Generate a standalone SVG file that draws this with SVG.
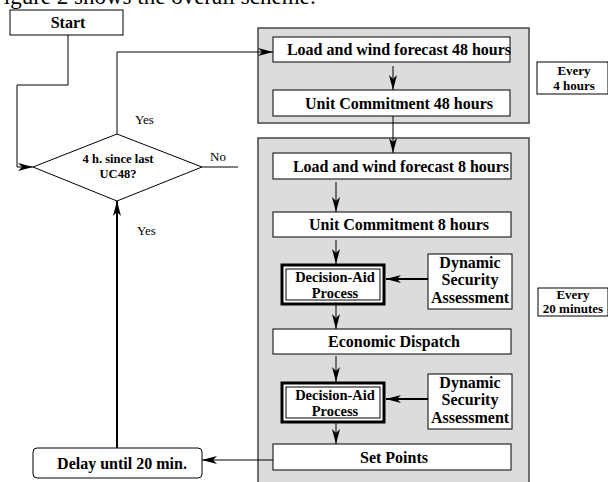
<svg xmlns="http://www.w3.org/2000/svg" width="608" height="482" viewBox="0 0 608 482">
<style>
text{font-family:"Liberation Serif","Times New Roman",serif;fill:#000}
.b{font-weight:bold;font-size:16px;text-anchor:middle}
.r{font-size:13px}
.e{font-size:13px}
.d{font-size:16px}
.p{font-size:14.5px}
.box{fill:#fff;stroke:#000;stroke-width:1}
.grp{fill:#dcdcdc;stroke:#444;stroke-width:1.5}
.ln{fill:none;stroke:#000;stroke-width:1}
.th{fill:none;stroke:#000;stroke-width:2}
</style>
<defs>
<marker id="ah" markerWidth="16" markerHeight="10" refX="15" refY="5" orient="auto" markerUnits="userSpaceOnUse">
<path d="M0,1 L15,5 L0,9 L4,5 z" fill="#000"/>
</marker>
</defs>
<text x="-9" y="4" style="font-size:23px">Figure 2 shows the overall scheme:</text>
<rect class="grp" x="258" y="28" width="271" height="95"/>
<rect class="grp" x="258" y="138" width="271" height="350"/>
<g id="start"><rect class="box" x="10" y="10" width="113" height="25"/><text class="b" x="68" y="28">Start</text></g>
<g id="decision"><path d="M33,167 L117,134 L202,167 L117,201 z" fill="#fff" stroke="#000"/><text class="b" x="118" y="163" style="font-size:12.5px">4 h. since last</text><text class="b" x="118" y="178" style="font-size:12.5px">UC48?</text></g>
<g id="load48"><rect class="box" x="273" y="37" width="237" height="25"/><text class="b" x="399" y="55">Load and wind forecast 48 hours</text></g>
<g id="uc48"><rect class="box" x="273" y="90" width="237" height="26"/><text class="b" x="399" y="109">Unit Commitment 48 hours</text></g>
<g id="every4"><rect class="box" x="537" y="62" width="71" height="32"/><text class="b e" x="574" y="75">Every</text><text class="b e" x="574" y="90">4 hours</text></g>
<g id="load8"><rect class="box" x="273" y="153" width="238" height="26"/><text class="b" x="401" y="172">Load and wind forecast 8 hours</text></g>
<g id="uc8"><rect class="box" x="273" y="212" width="238" height="25"/><text class="b" x="399" y="230">Unit Commitment 8 hours</text></g>
<g id="dap1"><rect x="282" y="265" width="102" height="39" fill="#fff" stroke="#000" stroke-width="3"/><rect x="286" y="269" width="94" height="31" fill="none" stroke="#000" stroke-width="1"/><text class="b p" x="335" y="282">Decision-Aid</text><text class="b p" x="335" y="298">Process</text></g>
<g id="dsa1"><rect class="box" x="428" y="254" width="84" height="55"/><text class="b d" x="470" y="268">Dynamic</text><text class="b d" x="470" y="285">Security</text><text class="b d" x="470" y="303">Assessment</text></g>
<g id="every20"><rect class="box" x="538" y="288" width="70" height="28"/><text class="b e" x="573" y="299">Every</text><text class="b e" x="573" y="313">20 minutes</text></g>
<g id="ed"><rect class="box" x="273" y="329" width="238" height="25"/><text class="b" x="394" y="347">Economic Dispatch</text></g>
<g id="dap2"><rect x="282" y="383" width="102" height="39" fill="#fff" stroke="#000" stroke-width="3"/><rect x="286" y="387" width="94" height="31" fill="none" stroke="#000" stroke-width="1"/><text class="b p" x="335" y="400">Decision-Aid</text><text class="b p" x="335" y="416">Process</text></g>
<g id="dsa2"><rect class="box" x="428" y="374" width="84" height="55"/><text class="b d" x="470" y="388">Dynamic</text><text class="b d" x="470" y="405">Security</text><text class="b d" x="470" y="423">Assessment</text></g>
<g id="setpoints"><rect class="box" x="273" y="444" width="238" height="26"/><text class="b" x="394" y="463">Set Points</text></g>
<g id="delay"><rect class="box" x="33" y="448" width="169" height="30" rx="4"/><text class="b" x="122" y="469">Delay until 20 min.</text></g>
<g id="connectors">
<path class="ln" d="M68,35 V85 H17 V167 H33" marker-end="url(#ah)"/>
<path class="ln" d="M117,134 V52 H273" marker-end="url(#ah)"/>
<path class="ln" d="M202,167 H238"/>
<path class="ln" d="M393,66 V90" marker-end="url(#ah)"/>
<path class="ln" d="M393,116 V153" marker-end="url(#ah)"/>
<path class="ln" d="M336,182 V212" marker-end="url(#ah)"/>
<path class="ln" d="M336,240 V264" marker-end="url(#ah)"/>
<path class="th" d="M428,279 H386" marker-end="url(#ah)"/>
<path class="ln" d="M336,305 V329" marker-end="url(#ah)"/>
<path class="ln" d="M336,356 V382" marker-end="url(#ah)"/>
<path class="th" d="M428,399 H386" marker-end="url(#ah)"/>
<path class="ln" d="M336,423 V444" marker-end="url(#ah)"/>
<path class="ln" d="M273,460 H202" marker-end="url(#ah)"/>
<path class="th" d="M117,448 V201" marker-end="url(#ah)"/>
<text class="r" x="135" y="124">Yes</text>
<text class="r" x="210" y="161">No</text>
<text class="r" x="137" y="235">Yes</text>
</g>
</svg>
